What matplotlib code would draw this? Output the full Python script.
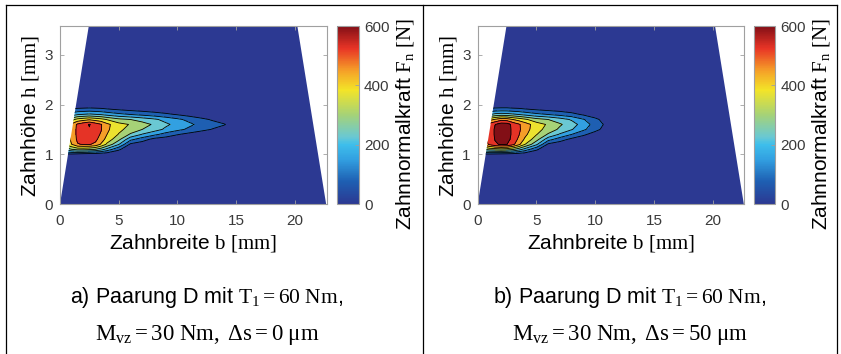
import numpy as np
import matplotlib
matplotlib.use("Agg")
import matplotlib.pyplot as plt
from matplotlib.colors import LinearSegmentedColormap, Normalize
from matplotlib.cm import ScalarMappable
from matplotlib.patches import Polygon
from matplotlib.lines import Line2D

plt.rcParams['font.family'] = ['Liberation Sans', 'DejaVu Sans']
plt.rcParams['mathtext.fontset'] = 'custom'
plt.rcParams['mathtext.rm'] = 'Liberation Serif'
plt.rcParams['mathtext.it'] = 'Liberation Serif:italic'
plt.rcParams['mathtext.bf'] = 'Liberation Serif:bold'

# Stützstellen (Zahnbreite b, Zahnhöhe h) in mm
b_mm = [0, 0.5, 1, 1.5, 2, 2.5, 3, 3.5, 4, 5, 6, 7, 8, 9, 10, 11, 12, 13, 14, 15]
h_mm = [0.9, 1.0, 1.1, 1.2, 1.3, 1.4, 1.5, 1.6, 1.7, 1.8, 1.9, 2.0]

# Zahnnormalkraft Fn [N], eine Zeile je b-Wert, Spalten = h_mm
Fn_a = [
    [5, 50, 220, 330, 340, 345, 345, 340, 250, 130, 60, 5],
    [5, 60, 260, 390, 400, 405, 405, 400, 300, 160, 70, 5],
    [5, 60, 300, 450, 470, 475, 475, 470, 350, 190, 80, 5],
    [0, 50, 330, 520, 540, 545, 545, 540, 400, 220, 95, 10],
    [0, 40, 330, 530, 560, 575, 580, 575, 420, 230, 100, 10],
    [0, 35, 320, 530, 565, 580, 595, 605, 440, 240, 105, 10],
    [0, 30, 300, 510, 545, 560, 570, 565, 420, 230, 100, 10],
    [0, 25, 260, 440, 490, 515, 530, 530, 400, 220, 95, 10],
    [0, 20, 200, 360, 420, 450, 465, 470, 370, 200, 85, 5],
    [0, 10, 90, 230, 320, 370, 395, 400, 320, 170, 70, 5],
    [0, 0, 10, 60, 170, 290, 345, 370, 300, 150, 55, 0],
    [0, 0, 5, 30, 110, 220, 300, 330, 270, 130, 45, 0],
    [0, 0, 0, 15, 50, 170, 260, 290, 240, 110, 35, 0],
    [0, 0, 0, 5, 35, 120, 210, 240, 200, 90, 25, 0],
    [0, 0, 0, 0, 15, 80, 170, 200, 165, 70, 15, 0],
    [0, 0, 0, 0, 5, 50, 135, 165, 130, 45, 5, 0],
    [0, 0, 0, 0, 0, 25, 100, 130, 95, 25, 0, 0],
    [0, 0, 0, 0, 0, 10, 70, 105, 65, 10, 0, 0],
    [0, 0, 0, 0, 0, 0, 40, 80, 35, 0, 0, 0],
    [0, 0, 0, 0, 0, 0, 5, 20, 5, 0, 0, 0],
]

Fn_b = [
    [5, 50, 250, 390, 410, 415, 415, 410, 300, 150, 65, 5],
    [5, 60, 300, 470, 490, 495, 495, 490, 360, 185, 80, 5],
    [5, 60, 330, 540, 560, 565, 565, 560, 420, 220, 95, 10],
    [0, 55, 340, 590, 605, 610, 610, 600, 460, 250, 105, 10],
    [0, 50, 350, 610, 640, 650, 650, 640, 500, 260, 110, 10],
    [0, 45, 340, 600, 630, 640, 640, 635, 490, 255, 110, 10],
    [0, 40, 310, 545, 570, 580, 580, 575, 450, 240, 100, 10],
    [0, 30, 260, 470, 510, 530, 540, 535, 420, 225, 95, 10],
    [0, 25, 200, 380, 440, 470, 485, 490, 390, 205, 85, 5],
    [0, 10, 90, 240, 330, 380, 405, 410, 330, 170, 70, 5],
    [0, 0, 10, 60, 180, 290, 345, 365, 300, 150, 55, 0],
    [0, 0, 5, 30, 110, 215, 285, 310, 260, 125, 45, 0],
    [0, 0, 0, 10, 55, 150, 230, 260, 215, 100, 30, 0],
    [0, 0, 0, 0, 25, 90, 165, 190, 155, 65, 15, 0],
    [0, 0, 0, 0, 5, 40, 100, 120, 95, 30, 0, 0],
    [0, 0, 0, 0, 0, 10, 40, 55, 35, 5, 0, 0],
    [0, 0, 0, 0, 0, 0, 5, 10, 5, 0, 0, 0],
    [0, 0, 0, 0, 0, 0, 0, 0, 0, 0, 0, 0],
    [0, 0, 0, 0, 0, 0, 0, 0, 0, 0, 0, 0],
    [0, 0, 0, 0, 0, 0, 0, 0, 0, 0, 0, 0],
]

# Zahnflanke (Trapez) und Achsgrenzen
tooth_b = [0, 2.45, 20.2, 22.65]
tooth_h = [0, 3.58, 3.58, 0]
b_max = 22.7
h_max = 3.58

levels = [0, 75, 150, 225, 300, 375, 450, 525, 600, 800]
cbar_ticks = [0, 200, 400, 600]

captions = [
    ("a) Paarung D mit $\\mathrm{T_1 = 60\\ Nm}$,",
     "$\\mathrm{M_{vz} = 30\\ Nm,\\ Δs = 0\\ μm}$"),
    ("b) Paarung D mit $\\mathrm{T_1 = 60\\ Nm}$,",
     "$\\mathrm{M_{vz} = 30\\ Nm,\\ Δs = 50\\ μm}$"),
]

# etwas blasses "jet" wie im Scan
jet_pale = LinearSegmentedColormap.from_list("jet_pale", [
    (0.000, (44/255, 57/255, 146/255)),
    (0.125, (30/255, 95/255, 178/255)),
    (0.250, (50/255, 160/255, 225/255)),
    (0.333, (62/255, 190/255, 235/255)),
    (0.375, (105/255, 200/255, 212/255)),
    (0.500, (165/255, 210/255, 120/255)),
    (0.640, (243/255, 228/255, 40/255)),
    (0.750, (245/255, 160/255, 40/255)),
    (0.875, (232/255, 52/255, 38/255)),
    (1.000, (130/255, 15/255, 22/255)),
])
norm = Normalize(0, 600)
# Flächenfarbe nach unterer Niveaugrenze (wie MATLAB contourf)
band_colors = [jet_pale(min(lo / 600, 1.0)) for lo in levels[:-1]]

W, H = 841, 354
fig = plt.figure(figsize=(W / 100, H / 100), dpi=100)


def px(x0, y0, w, h):
    return [x0 / W, 1 - (y0 + h) / H, w / W, h / H]


frame_gray = '#a0a0a0'
tick_gray = '#3a3a3a'

panels = [(60, 337, 207, Fn_a, captions[0]), (477.7, 753.5, 630, Fn_b, captions[1])]
for x0, cx0, mid, Fn, cap in panels:
    ax = fig.add_axes(px(x0, 26, 266.7, 178))

    B = np.array(b_mm + [23.0])
    Hh = np.array([0.0] + h_mm + [3.6])
    Z = np.zeros((len(Hh), len(B)))
    Z[1:-1, :-1] = np.array(Fn, dtype=float).T

    tooth = Polygon(np.column_stack([tooth_b, tooth_h]), closed=True,
                    transform=ax.transData, facecolor='none', edgecolor='none')
    cf = ax.contourf(B, Hh, Z, levels=levels, colors=band_colors)
    cl = ax.contour(B, Hh, Z, levels=levels[1:-1], colors='k', linewidths=0.6)
    cf.set_clip_path(tooth)
    cl.set_clip_path(tooth)

    ax.set_xlim(0, b_max)
    ax.set_ylim(0, h_max)
    ax.set_xticks([0, 5, 10, 15, 20])
    ax.set_yticks([0, 1, 2, 3])
    ax.tick_params(direction='in', length=3, width=0.6, color=frame_gray,
                   labelcolor=tick_gray, labelsize=11, top=True, right=True)
    ax.tick_params(axis='x', pad=7)
    ax.tick_params(axis='y', pad=5)
    for sp in ax.spines.values():
        sp.set_color(frame_gray)
        sp.set_linewidth(0.8)

    fig.text((x0 + 133) / W, 1 - 243 / H, "Zahnbreite $\\mathrm{b\\ [mm]}$",
             ha='center', va='center', fontsize=15)
    fig.text((x0 - 30) / W, 1 - 116 / H, "Zahnhöhe $\\mathrm{h\\ [mm]}$",
             ha='center', va='center', rotation=90, fontsize=15)

    cax = fig.add_axes(px(cx0, 26, 21.5, 178))
    cb = fig.colorbar(ScalarMappable(norm=norm, cmap=jet_pale), cax=cax, ticks=cbar_ticks)
    cb.outline.set_edgecolor(frame_gray)
    cb.outline.set_linewidth(0.8)
    cax.tick_params(direction='in', length=3, width=0.6, color=frame_gray,
                    labelcolor=tick_gray, labelsize=11, pad=4)
    fig.text((cx0 + 68) / W, 1 - 124 / H, "Zahnnormalkraft $\\mathrm{F_n\\ [N]}$",
             ha='center', va='center', rotation=90, fontsize=15)

    fig.text(mid / W, 1 - 297 / H, cap[0], ha='center', va='center', fontsize=15.5)
    fig.text(mid / W, 1 - 335 / H, cap[1], ha='center', va='center', fontsize=16.5)

# Tabellenrahmen
for xs, ys in [((6, 837), (5, 5)), ((6, 6), (5, 354)), ((423, 423), (5, 354)), ((837, 837), (5, 354))]:
    fig.add_artist(Line2D([x / W for x in xs], [1 - y / H for y in ys], color='k', linewidth=0.9))

fig.savefig("out.png", dpi=100)
